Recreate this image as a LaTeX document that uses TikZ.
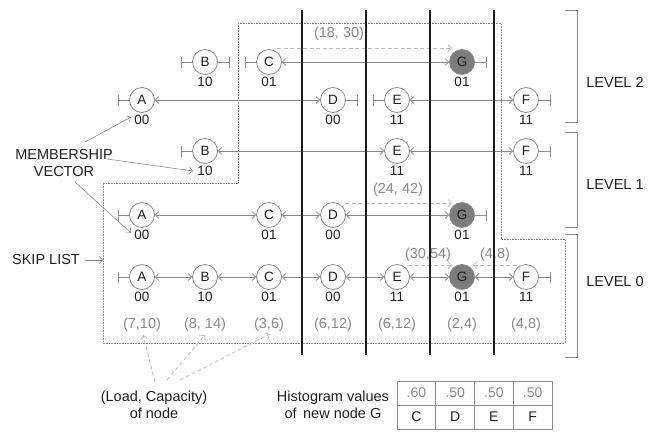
\documentclass[tikz,border=0pt]{standalone}
\usepackage{fontspec}
\setmainfont{Liberation Sans}
\usetikzlibrary{arrows.meta}
\definecolor{ln}{HTML}{8A8A8A}
\definecolor{lt}{HTML}{BDBDBD}
\definecolor{dk}{HTML}{1E1E1E}
\definecolor{gfill}{HTML}{7C7C7C}
\tikzset{
  sk/.style={circle,draw=ln,line width=0.8pt,fill=white,minimum size=25pt,inner sep=0pt,font=\fontsize{13.5}{13.5}\selectfont,text=dk},
  skg/.style={sk,fill=gfill},
  bits/.style={font=\fontsize{13.5}{14}\selectfont,text=dk,inner sep=0pt},
  lc/.style={font=\fontsize{14.5}{15}\selectfont,text=ln,inner sep=0pt},
  hdr/.style={font=\fontsize{14.5}{17.5}\selectfont,text=dk,inner sep=0pt,align=center},
  link/.style={draw=ln,line width=0.7pt,{Straight Barb[length=3.5pt,width=7pt]}-{Straight Barb[length=3.5pt,width=7pt]}},
  term/.style={draw=ln,line width=0.7pt,-{Bar[width=11pt,line width=0.7pt]}},
  hint/.style={draw=lt,line width=0.8pt,dash pattern=on 4pt off 2.5pt,-{Straight Barb[length=3.5pt,width=7pt]}},
  note/.style={draw=ln,line width=0.6pt,-{Straight Barb[length=3.5pt,width=7pt]}},
  region/.style={draw=ln,line width=0.6pt,densely dotted},
  divider/.style={draw=dk,line width=1.8pt},
  brk/.style={draw=ln,line width=0.8pt},
  cell/.style={font=\fontsize{14}{14}\selectfont,inner sep=0pt}
}
\newcommand\sknode[6]{\node[#6] (#1) at (#2,#3) {#4}; \node[bits] (#1-b) at (#2,#3+20) {#5};}
\begin{document}
\begin{tikzpicture}[x=1pt,y=-1pt]
\useasboundingbox (0,0) rectangle (661,432);
% dotted region
\draw[region] (238,23) -- (501,23) -- (501,239) -- (565,239) -- (565,343) -- (103,343) -- (103,183) -- (238,183) -- cycle;
% brackets
\draw[brk] (565,10) -- (577,10) -- (577,122) -- (565,122);
\draw[brk] (565,132) -- (577,132) -- (577,227) -- (565,227);
\draw[brk] (565,234) -- (577,234) -- (577,357) -- (565,357);
\node[hdr] (lv2) at (615,82) {LEVEL 2};
\node[hdr] (lv1) at (615,185) {LEVEL 1};
\node[hdr] (lv0) at (615,282) {LEVEL 0};
% level 2 upper
\sknode{uB}{205}{62}{B}{10}{sk}
\sknode{uC}{269}{62}{C}{01}{sk}
\sknode{uG}{462}{62}{G}{01}{skg}
% level 2 lower
\sknode{vA}{142}{100}{A}{00}{sk}
\sknode{vD}{333}{100}{D}{00}{sk}
\sknode{vE}{397}{100}{E}{11}{sk}
\sknode{vF}{526}{100}{F}{11}{sk}
% level 1 upper
\sknode{wB}{205}{151}{B}{10}{sk}
\sknode{wE}{397}{151}{E}{11}{sk}
\sknode{wF}{526}{151}{F}{11}{sk}
% level 1 lower
\sknode{xA}{142}{215}{A}{00}{sk}
\sknode{xC}{269}{215}{C}{01}{sk}
\sknode{xD}{333}{215}{D}{00}{sk}
\sknode{xG}{462}{215}{G}{01}{skg}
% level 0
\sknode{zA}{142}{277}{A}{00}{sk}
\sknode{zB}{205}{277}{B}{10}{sk}
\sknode{zC}{269}{277}{C}{01}{sk}
\sknode{zD}{333}{277}{D}{00}{sk}
\sknode{zE}{397}{277}{E}{11}{sk}
\sknode{zG}{462}{277}{G}{01}{skg}
\sknode{zF}{526}{277}{F}{11}{sk}
% links
\draw[link] (uC) -- (uG);
\draw[link] (vA) -- (vD);
\draw[link] (vE) -- (vF);
\draw[link] (wB) -- (wE);
\draw[link] (wE) -- (wF);
\draw[link] (xA) -- (xC);
\draw[link] (xC) -- (xD);
\draw[link] (xD) -- (xG);
\draw[link] (zA) -- (zB);
\draw[link] (zB) -- (zC);
\draw[link] (zC) -- (zD);
\draw[link] (zD) -- (zE);
\draw[link] (zE) -- (zG);
\draw[link] (zG) -- (zF);
% terminators
\draw[term] (uB.west) -- ++(-11.5,0);
\draw[term] (uB.east) -- ++(11.5,0);
\draw[term] (uC.west) -- ++(-11.5,0);
\draw[term] (uG.east) -- ++(11.5,0);
\draw[term] (vA.west) -- ++(-11.5,0);
\draw[term] (vD.east) -- ++(11.5,0);
\draw[term] (vE.west) -- ++(-11.5,0);
\draw[term] (vF.east) -- ++(11.5,0);
\draw[term] (wB.west) -- ++(-11.5,0);
\draw[term] (wF.east) -- ++(11.5,0);
\draw[term] (xA.west) -- ++(-11.5,0);
\draw[term] (xG.east) -- ++(11.5,0);
\draw[term] (zA.west) -- ++(-11.5,0);
\draw[term] (zF.east) -- ++(11.5,0);
% load values
\node[lc] (ldA) at (142,325) {(7,10)};
\node[lc] (ldB) at (205,325) {(8, 14)};
\node[lc] (ldC) at (269,325) {(3,6)};
\node[lc] (ldD) at (333,325) {(6,12)};
\node[lc] (ldE) at (397,325) {(6,12)};
\node[lc] (ldG) at (462,325) {(2,4)};
\node[lc] (ldF) at (526,325) {(4,8)};
% histogram hints
\node[lc] (h1) at (339,34) {(18, 30)};
\coordinate (h1s) at (277,48);
\coordinate (h1e) at (452,48);
\draw[hint] (h1s) -- (h1e);
\node[lc] (h2) at (398,190) {(24, 42)};
\coordinate (h2s) at (345,203);
\coordinate (h2e) at (452,203);
\draw[hint] (h2s) -- (h2e);
\node[lc] (h3) at (428,255) {(30,54)};
\coordinate (h3s) at (408,265);
\coordinate (h3e) at (452,265);
\draw[hint] (h3s) -- (h3e);
\node[lc] (h4) at (495,255) {(4,8)};
\coordinate (h4s) at (523,265);
\coordinate (h4e) at (473,265);
\draw[hint] (h4s) -- (h4e);
% left labels
\node[hdr] (mv) at (64,163) {MEMBERSHIP\\VECTOR};
\coordinate (m1s) at (85,142);
\coordinate (m1e) at (131,117);
\coordinate (m2s) at (107,159);
\coordinate (m2e) at (193,171);
\coordinate (m3s) at (75,182);
\coordinate (m3e) at (131,233);
\draw[note] (m1s) -- (m1e);
\draw[note] (m2s) -- (m2e);
\draw[note] (m3s) -- (m3e);
\node[hdr] (sl) at (46,260) {SKIP LIST};
\coordinate (sls) at (85,260);
\coordinate (sle) at (103,260);
\draw[note] (sls) -- (sle);
% load/capacity caption
\node[hdr] (lcap) at (154,405) {(Load, Capacity)\\of node};
\coordinate (lc1) at (155,382);
\coordinate (lc2) at (167,380);
\coordinate (lc3) at (180,380);
\coordinate (lt1) at (143,335);
\coordinate (lt2) at (205,335);
\coordinate (lt3) at (270,334);
\draw[hint] (lc1) -- (lt1);
\draw[hint] (lc2) -- (lt2);
\draw[hint] (lc3) -- (lt3);
% histogram table
\node[hdr] (hv) at (333,405) {Histogram values\\of\,\ new node G};
\draw[draw=ln,line width=0.6pt] (397,381) rectangle (552,429);
\draw[draw=ln,line width=0.6pt] (397,405) -- (552,405);
\foreach \xx in {435.75,474.5,513.25} \draw[draw=ln,line width=0.6pt] (\xx,381) -- (\xx,429);
\node[cell,text=ln] (t1) at (416.4,393) {.60};
\node[cell,text=ln] (t2) at (455.1,393) {.50};
\node[cell,text=ln] (t3) at (493.9,393) {.50};
\node[cell,text=ln] (t4) at (532.6,393) {.50};
\node[cell,text=dk] (t5) at (416.4,417) {C};
\node[cell,text=dk] (t6) at (455.1,417) {D};
\node[cell,text=dk] (t7) at (493.9,417) {E};
\node[cell,text=dk] (t8) at (532.6,417) {F};
% dividers
\draw[divider] (302,10) -- (302,355);
\draw[divider] (366,10) -- (366,355);
\draw[divider] (430,10) -- (430,355);
\draw[divider] (494,10) -- (494,355);
\end{tikzpicture}
\end{document}
